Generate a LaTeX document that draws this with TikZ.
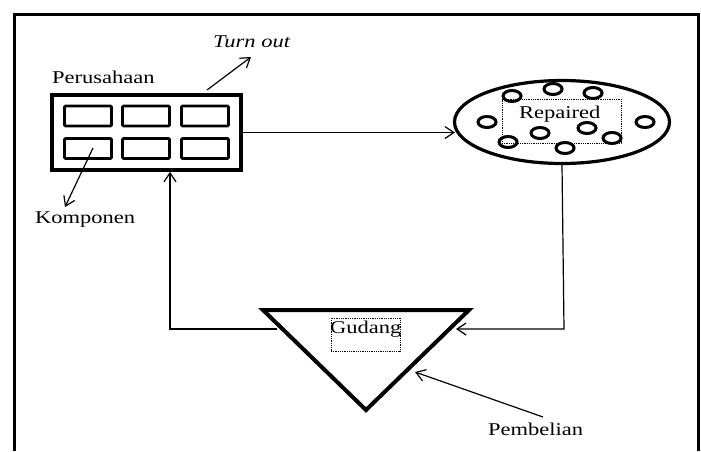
\documentclass[tikz,border=0pt]{standalone}
\usepackage{fontspec}
\setmainfont{Liberation Serif}[FakeStretch=1.25]
\usetikzlibrary{arrows.meta,shapes.geometric}
\begin{document}
\begin{tikzpicture}[x=1pt,y=-1pt,
  lbl/.style={inner sep=0pt,anchor=base west,font=\fontsize{18}{20}\selectfont},
  comp/.style={draw,line width=2.8pt,minimum width=47pt,minimum height=20pt,inner sep=0pt,rounded corners=1pt},
  dot/.style={draw,ellipse,line width=3pt,minimum width=18pt,minimum height=11pt,inner sep=0pt},
  dotbox/.style={draw,densely dotted,line width=0.8pt,inner sep=0pt},
  conn/.style={line width=1.2pt,draw=black,-{Straight Barb[length=9pt,width=12pt,line width=1.2pt]}}]
\useasboundingbox (0,0) rectangle (701,451);
\fill[white] (0,0) rectangle (701,451);
% frame
\draw[line width=3pt] (14,451) -- (14,14) -- (698,14) -- (698,451);
% Perusahaan box
\node[draw,line width=3.6pt,minimum width=189pt,minimum height=75pt,inner sep=0pt] (per) at (146.5,132.5) {};
\node[comp] (c1) at (88,116) {};
\node[comp] (c2) at (146,116) {};
\node[comp] (c3) at (205,116) {};
\node[comp] (c4) at (88,148.5) {};
\node[comp] (c5) at (146,148.5) {};
\node[comp] (c6) at (205,148.5) {};
\node[lbl] (perlab) at (52,83) {Perusahaan};
\node[lbl] (turn) at (213,47) {\itshape Turn out};
\node[lbl] (komp) at (35,223) {Komponen};
% Repaired ellipse
\node[draw,ellipse,line width=3.2pt,minimum width=215pt,minimum height=83pt,inner sep=0pt] (rep) at (562,122) {};
\node[dotbox,minimum width=119pt,minimum height=44pt] (repbox) at (561.5,121) {};
\node[lbl] (replab) at (519,118) {Repaired};
\foreach \n/\x/\y in {1/512/96,2/553/89,3/593/93,4/487/122,5/645/122,6/540/133,7/587/128,8/508/142,9/612/138,10/565/148}
  \node[dot] (d\n) at (\x,\y) {};
% Gudang triangle
\coordinate (tA) at (263,310);
\coordinate (tB) at (469,310);
\coordinate (tC) at (366,410);
\draw[line width=4pt,line join=miter] (tA) -- (tB) -- (tC) -- cycle;
\node[dotbox,minimum width=69pt,minimum height=33pt] (gudbox) at (365.5,334.5) {};
\node[lbl] (gud) at (330,333) {Gudang};
\node[lbl] (pemb) at (488,435) {Pembelian};
% connectors
\coordinate (repin) at (455,132.5);
\coordinate (gR) at (456,329);
\coordinate (gL) at (277,329);
\coordinate (cA) at (564,329);
\coordinate (cB) at (170,329);
\coordinate (tout) at (251,57);
\coordinate (tin) at (207,90);
\coordinate (kin) at (93,148);
\coordinate (kout) at (65,207);
\coordinate (pst) at (543,417);
\coordinate (pend) at (415,372);
\draw[conn] (per.east) -- (repin);
\draw[conn] (rep.south) -- (cA) -- (gR);
\draw[conn] (gL) -- (cB) -- (per.south -| cB);
\draw[conn] (tin) -- (tout);
\draw[conn] (kin) -- (kout);
\draw[conn] (pst) -- (pend);
\end{tikzpicture}
\end{document}
